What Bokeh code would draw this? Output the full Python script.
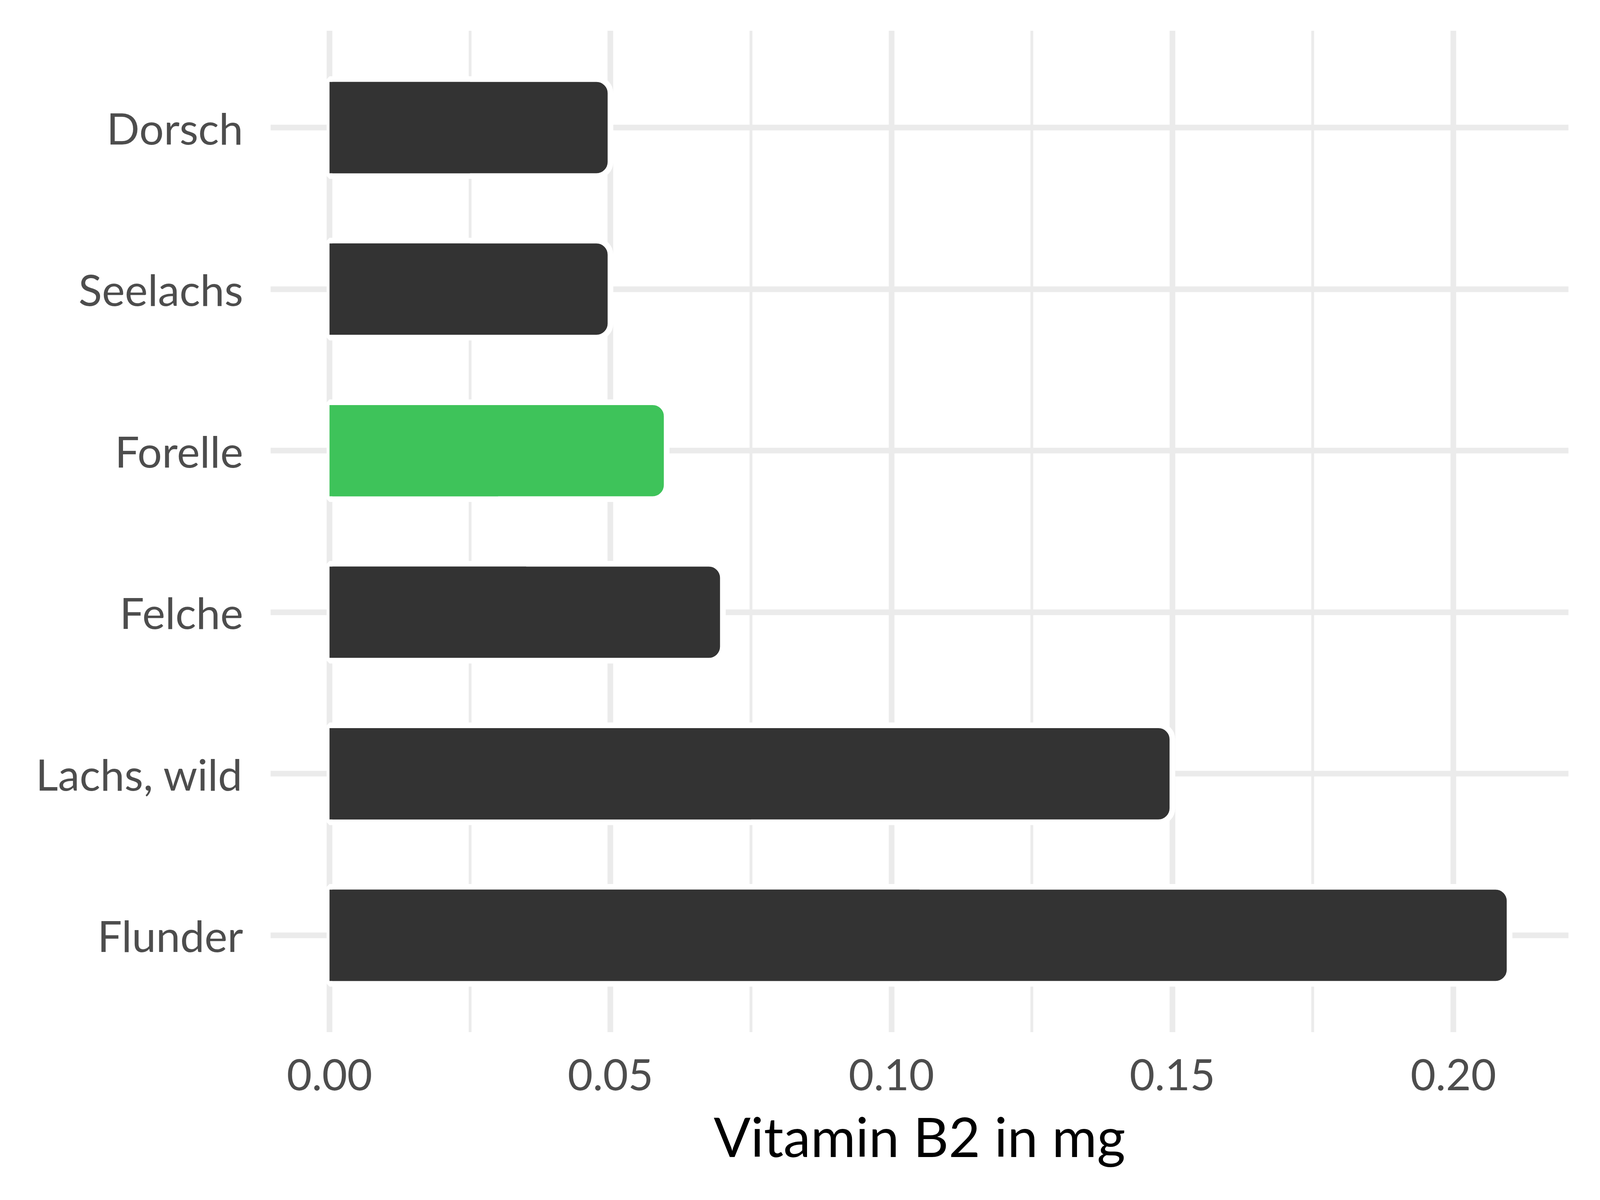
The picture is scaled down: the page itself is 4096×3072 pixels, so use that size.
from bokeh.plotting import figure
from bokeh.models import FactorRange, Range1d, FixedTicker, ColumnDataSource, NumeralTickFormatter
from bokeh.embed import file_html
from bokeh.resources import INLINE

# ---- data ----
fish = ["Dorsch", "Seelachs", "Forelle", "Felche", "Lachs, wild", "Flunder"]
vitamin_b2 = [0.05, 0.05, 0.06, 0.07, 0.15, 0.21]
highlight = ["Forelle"]
x_ticks = [0.0, 0.05, 0.10, 0.15, 0.20]
x_tick_labels = ["0.00", "0.05", "0.10", "0.15", "0.20"]
x_minor_ticks = [0.025, 0.075, 0.125, 0.175]
x_title = "Vitamin B2 in mg"

# ---- styles ----
DARK = "#333333"
GREEN = "#3EC35A"
GRID = "#EBEBEB"
FONT = "Lato"
BAR_H = 0.6
OUTLINE = 14.5

colors = [GREEN if f in highlight else DARK for f in fish]
src = ColumnDataSource(dict(fish=fish, value=vitamin_b2, color=colors,
                            half=[v / 2 for v in vitamin_b2]))

n = len(fish)
y_range = FactorRange(factors=list(reversed(fish)),
                      range_padding=0.2 / n, range_padding_units="percent")
x_range = Range1d(-0.0105, 0.2205)

p = figure(width=4080, height=3056, x_range=x_range, y_range=y_range,
           output_backend="svg", toolbar_location=None,
           min_border_left=692, min_border_right=65,
           min_border_top=78, min_border_bottom=414)
p.outline_line_color = None
p.background_fill_color = "white"
p.border_fill_color = "white"

# rounded bars with white outline
p.hbar(y="fish", left=0, right="value", height=BAR_H, source=src,
       fill_color="color", line_color="white", line_width=OUTLINE,
       border_radius=(0, 36, 36, 0))
# keep the left (baseline) edge of the bars square and flush with 0
frame_h = 3056 - 78 - 414
inset = OUTLINE / (frame_h / (n + 0.2))
p.hbar(y="fish", left=0, right="half", height=BAR_H - inset, source=src,
       fill_color="color", line_color=None)

# x axis
p.xaxis.ticker = FixedTicker(ticks=x_ticks, minor_ticks=x_minor_ticks)
p.xaxis.formatter = NumeralTickFormatter(format="0.00")
p.xaxis.major_label_overrides = dict(zip(x_ticks, x_tick_labels))
p.xaxis.axis_label = x_title

for ax in (p.xaxis, p.yaxis):
    ax.axis_line_color = None
    ax.major_tick_line_color = None
    ax.minor_tick_line_color = None
    ax.major_tick_out = 0
    ax.major_tick_in = 0
    ax.minor_tick_out = 0
    ax.minor_tick_in = 0
    ax.major_label_text_font = FONT
    ax.major_label_text_font_size = "111px"
    ax.major_label_text_color = "#4D4D4D"

p.xaxis.major_label_standoff = 68
p.xaxis.axis_label_text_font = FONT
p.xaxis.axis_label_text_font_size = "140px"
p.xaxis.axis_label_text_font_style = "normal"
p.xaxis.axis_label_text_color = "#000000"
p.xaxis.axis_label_standoff = 30

p.yaxis.major_label_standoff = 70

# grids
p.xgrid.grid_line_color = GRID
p.xgrid.grid_line_width = 14.5
p.xgrid.minor_grid_line_color = GRID
p.xgrid.minor_grid_line_width = 7.25
p.ygrid.grid_line_color = GRID
p.ygrid.grid_line_width = 14.5

open("out.html", "w").write(file_html(p, INLINE))
